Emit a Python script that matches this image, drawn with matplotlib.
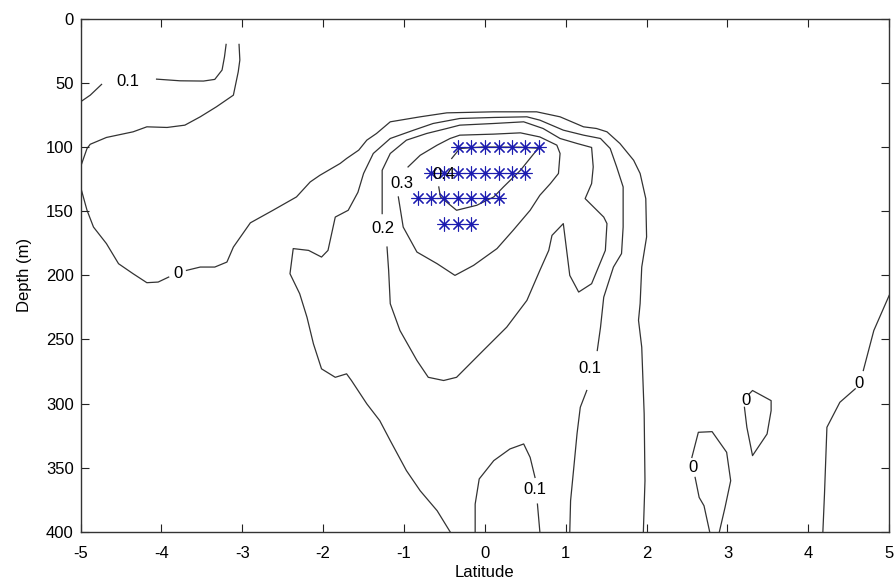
import numpy as np
import matplotlib
matplotlib.use("Agg")
import matplotlib.pyplot as plt

plt.rcParams['font.family'] = ['Liberation Sans', 'DejaVu Sans']
plt.rcParams['axes.unicode_minus'] = False

nan = np.nan

# contour lines (latitude, depth in m), nan = gap for a label
c01_top_lat = [-5.0, -4.88, -4.74, nan, -4.06, -3.77, -3.48, -3.34, -3.25, -3.22, -3.20]
c01_top_dep = [64.6, 59.4, 51.0, nan, 46.9, 48.2, 48.4, 47.1, 39.8, 29.5, 19.8]

cx_top_lat = [-3.04, -3.03, -3.05, -3.11, -3.32, -3.52, -3.71, -3.93, -4.18, -4.35, -4.68, -4.88, -4.92, -5.0]
cx_top_dep = [19.8, 32.0, 41.2, 59.4, 68.5, 76.3, 82.8, 84.6, 84.1, 88.0, 92.4, 97.7, 101.0, 115.4]

c0_main_lat = [-5.0, -4.92, -4.84, -4.68, -4.53, -4.35, -4.18, -4.04, -3.91, nan,
               -3.69, -3.52, -3.34, -3.19, -3.11, -2.90, -2.62, -2.33, -2.16, -2.04,
               -1.79, -1.71, -1.56, -1.46, -1.34, -1.17, -0.80, -0.47, 0.11, 0.64,
               0.93, 1.22, 1.38, 1.51, 1.67, 1.84, 1.92, 1.99, 2.00, 1.94,
               1.92, 1.90, 1.94, 1.97, 1.98, 1.96]
c0_main_dep = [131.0, 149.2, 162.3, 175.2, 190.9, 198.7, 205.7, 205.2, 201.3, nan,
               196.1, 193.5, 193.5, 189.6, 177.9, 159.0, 149.2, 138.8, 127.1, 121.9,
               112.7, 108.8, 102.3, 94.5, 89.3, 80.2, 76.3, 73.2, 72.4, 72.4,
               76.3, 84.1, 85.4, 88.0, 97.1, 110.2, 120.5, 140.1, 170.0, 193.5,
               222.0, 235.0, 256.0, 308.0, 360.2, 400.0]

c01_main_lat = [-0.43, -0.59, -0.80, -0.97, -1.17, -1.30, -1.46, -1.65, -1.71, -1.85,
                -2.02, -2.12, -2.20, -2.29, -2.41, -2.37, -2.18, -2.02, -1.94, -1.85,
                -1.69, -1.57, -1.50, -1.38, -1.17, -0.88, -0.64, -0.31, 0.11, 0.52,
                0.68, 0.97, 1.22, 1.43, 1.55, 1.63, 1.71, 1.71, 1.69, 1.59,
                1.55, 1.47, 1.43, 1.39, nan, 1.26, 1.18, 1.14, 1.10, 1.06, 1.05]
c01_main_dep = [400.0, 383.6, 368.0, 352.3, 328.9, 313.3, 300.2, 282.0, 276.8, 279.5,
                272.9, 253.4, 232.6, 214.3, 198.7, 179.1, 180.5, 185.7, 180.5, 154.5,
                149.2, 135.2, 120.5, 104.9, 93.2, 86.7, 81.5, 77.6, 76.8, 76.3,
                78.9, 86.7, 90.6, 93.2, 101.0, 115.4, 131.0, 162.3, 183.0, 193.5,
                201.3, 217.0, 240.6, 258.6, nan, 289.8, 302.9, 323.4, 349.8, 375.8, 400.0]

c02_lat = [-1.21, -1.19, -1.17, -1.05, -0.84, -0.70, -0.51, -0.35, -0.02, 0.27,
           0.52, 0.68, 0.79, 0.83, 0.97, 1.05, 1.16, 1.32, 1.49, 1.51,
           1.47, 1.24, 1.32, 1.34, 1.32, 1.14, 0.93, 0.72, 0.48, 0.11,
           -0.31, -0.47, -0.72, -0.97, -1.17, -1.27, -1.27, -1.27]
c02_dep = [177.9, 196.1, 222.1, 243.0, 266.4, 279.5, 282.0, 279.5, 258.6, 240.4,
           219.5, 196.1, 180.5, 168.8, 159.6, 200.0, 213.0, 206.5, 180.5, 159.6,
           154.5, 140.1, 128.4, 115.4, 100.2, 97.1, 93.2, 85.4, 80.2, 81.5,
           82.8, 85.4, 89.3, 94.5, 104.9, 118.0, 141.4, 151.8]

c03_lat = [-0.95, -0.80, -0.59, -0.43, -0.31, 0.11, 0.44, 0.68, 0.89, 0.93,
           0.91, 0.81, 0.68, 0.56, 0.35, 0.15, -0.14, -0.37, -0.59, -0.84,
           -1.01, -1.07]
c03_dep = [115.4, 106.3, 98.4, 93.2, 90.6, 89.8, 88.8, 92.0, 98.4, 104.9,
           120.5, 128.4, 137.5, 149.2, 164.8, 179.1, 192.2, 200.0, 190.9, 181.8,
           162.3, 138.8]

c04_lat = [-0.41, -0.31, -0.02, 0.44, 0.66, 0.44, 0.23, 0.11, -0.10, -0.35, -0.55, -0.57]
c04_dep = [108.8, 101.0, 99.8, 100.0, 100.8, 118.0, 131.0, 138.8, 145.3, 149.2, 138.8, 131.0]

c01_low_lat = [-0.12, -0.12, -0.07, 0.11, 0.31, 0.48, 0.56, 0.62, nan, 0.65, 0.68]
c01_low_dep = [400.0, 378.4, 358.8, 344.5, 335.4, 331.5, 342.0, 357.6, nan, 378.4, 400.0]

c0_b1_lat = [2.78, 2.71, 2.65, 2.60, nan, 2.56, 2.64, 2.81, 2.99, 3.04, 2.97, 2.90]
c0_b1_dep = [400.0, 379.7, 373.2, 357.6, nan, 342.0, 322.4, 321.9, 338.0, 360.2, 381.0, 400.0]

c0_b2_lat = [3.27, 3.31, 3.54, 3.54, 3.49, 3.31, 3.24, 3.21]
c0_b2_dep = [292.4, 289.8, 297.7, 305.5, 323.7, 340.6, 318.5, 302.9]

c0_right_lat = [4.18, 4.20, 4.23, 4.39, 4.58, nan, 4.68, 4.81, 5.0]
c0_right_dep = [400.0, 370.5, 318.5, 299.0, 288.5, nan, 274.2, 243.0, 215.6]

# contour labels
label_text = ['0.1', '0', '0.4', '0.3', '0.2', '0.1', '0.1', '0', '0', '0']
label_lat = [-4.41, -3.79, -0.51, -1.03, -1.26, 1.30, 0.62, 2.57, 3.23, 4.63]
label_dep = [48.4, 198.7, 121.1, 128.4, 163.5, 272.9, 367.2, 350.2, 297.7, 284.1]

# stations marked with asterisks
star_lat = [-0.33, -0.17, 0.0, 0.17, 0.33, 0.5, 0.67,
            -0.67, -0.5, -0.33, -0.17, 0.0, 0.17, 0.33, 0.5,
            -0.83, -0.67, -0.5, -0.33, -0.17, 0.0, 0.17,
            -0.5, -0.33, -0.17]
star_dep = [100] * 7 + [120] * 8 + [140] * 7 + [160] * 3

fig = plt.figure(figsize=(8.95, 5.85), dpi=100)
ax = fig.add_axes([0.09, 0.091, 0.9035, 0.8765])

lines = [(c01_top_lat, c01_top_dep), (cx_top_lat, cx_top_dep),
         (c0_main_lat, c0_main_dep), (c01_main_lat, c01_main_dep),
         (c02_lat, c02_dep), (c03_lat, c03_dep), (c04_lat, c04_dep),
         (c01_low_lat, c01_low_dep), (c0_b1_lat, c0_b1_dep),
         (c0_b2_lat, c0_b2_dep), (c0_right_lat, c0_right_dep)]
for la, de in lines:
    ax.plot(la, de, color='#333333', lw=0.9, zorder=1)

ax.plot(star_lat, star_dep, linestyle='none', marker=(8, 2, 0), markersize=10,
        color='#1c1cb0', markeredgewidth=0.8, zorder=2)

for t, la, de in zip(label_text, label_lat, label_dep):
    ax.text(la, de, t, fontsize=12, ha='center', va='center', color='black', zorder=3)

ax.set_xlim(-5, 5)
ax.set_ylim(400, 0)
ax.set_xticks(range(-5, 6))
ax.set_yticks(range(0, 401, 50))
ax.tick_params(direction='in', length=5.5, width=0.8, top=True, right=True,
               labelsize=12, colors='#222222', labelcolor='black')
ax.tick_params(axis='x', pad=10)
ax.tick_params(axis='y', pad=5)
for s in ax.spines.values():
    s.set_color('#333333')
    s.set_linewidth(1.0)
ax.set_xlabel('Latitude', fontsize=12, labelpad=3)
ax.set_ylabel('Depth (m)', fontsize=12, labelpad=10)

fig.savefig('out.png', dpi=100)
